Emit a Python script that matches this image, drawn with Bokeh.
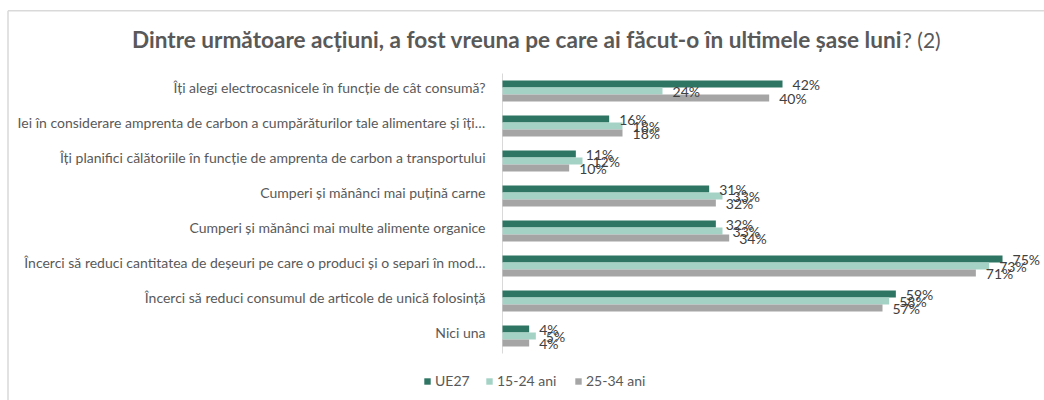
from bokeh.plotting import figure
from bokeh.models import ColumnDataSource, Label, Legend, LegendItem, Range1d
from bokeh.transform import dodge
from bokeh.core.properties import value
from bokeh.embed import file_html
from bokeh.resources import INLINE

categories = [
    "Îți alegi electrocasnicele în funcție de cât consumă?",
    "Iei în considerare amprenta de carbon a cumpărăturilor tale alimentare și îți…",
    "Îți planifici călătoriile în funcție de amprenta de carbon a transportului",
    "Cumperi și mănânci mai puțină carne",
    "Cumperi și mănânci mai multe alimente organice",
    "Încerci să reduci cantitatea de deșeuri pe care o produci și o separi în mod…",
    "Încerci să reduci consumul de articole de unică folosință",
    "Nici una",
]
ue27 = [42, 16, 11, 31, 32, 75, 59, 4]
ani_15_24 = [24, 18, 12, 33, 33, 73, 58, 5]
ani_25_34 = [40, 18, 10, 32, 34, 71, 57, 4]
series_names = ["UE27", "15-24 ani", "25-34 ani"]
title_bold = "Dintre următoare acțiuni, a fost vreuna pe care ai făcut-o în ultimele șase luni"
title_rest = "? (2)"

# ---- style / geometry ----
colors = ["#2f7563", "#a4d3c6", "#a5a5a5"]
FONT = "Lato"
W, H = 1044, 400
AXIS_PX = 502          # pixel x of the category axis
PX_PER_PCT = 6.667     # horizontal scale
PLOT_TOP = 73          # pixel y of top of first category band
BAND = 35              # pixel height of one category band
n = len(categories)

def xpx(px):
    return (px - AXIS_PX) / PX_PER_PCT

def ypx(py):
    return n - (py - PLOT_TOP) / BAND

ycenter = [n - i - 0.5 for i in range(n)]

src = ColumnDataSource(dict(
    cat=categories, yc=ycenter,
    ue27=ue27, a1=ani_15_24, a2=ani_25_34,
    l0=[f"{v}%" for v in ue27],
    l1=[f"{v}%" for v in ani_15_24],
    l2=[f"{v}%" for v in ani_25_34],
    zero=[0] * n,
))

p = figure(width=W, height=H, output_backend="svg", toolbar_location=None,
           x_range=Range1d(xpx(0), xpx(W)), y_range=Range1d(ypx(H), ypx(0)),
           min_border=0, min_border_left=0, min_border_right=0,
           min_border_top=0, min_border_bottom=0)
p.xaxis.visible = False
p.yaxis.visible = False
p.xgrid.visible = False
p.ygrid.visible = False
p.outline_line_color = None
p.background_fill_color = "white"

# chart border (top & left edges of the cropped chart frame)
p.segment(x0=[xpx(7.5), xpx(7.5)], y0=[ypx(10.3), ypx(10.3)],
          x1=[xpx(7.5), xpx(W + 20)], y1=[ypx(H + 20), ypx(10.3)],
          line_color="#d9d9d9", line_width=1.5)

# category axis line
p.segment(x0=[0], x1=[0], y0=[0], y1=[n], line_color="#d9d9d9", line_width=1)

# category labels
p.text(x="zero", y="yc", text="cat", source=src, x_offset=-17, y_offset=-4,
       text_align="right", text_baseline="middle", text_font=value(FONT),
       text_font_size="14px", text_color="#595959")

offsets = [0.2, 0.0, -0.2]
cols = ["ue27", "a1", "a2"]
lcols = ["l0", "l1", "l2"]
renderers = []
for col, off, c in zip(cols, offsets, colors):
    r = p.hbar(y=dodge("yc", off), right=col, left=0, height=0.2,
               source=src, fill_color=c, line_color=None)
    renderers.append(r)
for col, lc, off in zip(cols, lcols, offsets):
    p.text(x=col, y=dodge("yc", off), text=lc, source=src,
           x_offset=10, y_offset=0, text_align="left", text_baseline="middle",
           text_font=value(FONT), text_font_size="14px", text_color="#404040")

legend_x = [423, 485, 574]
for nm, r, lx in zip(series_names, renderers, legend_x):
    lg = Legend(items=[LegendItem(label=nm, renderers=[r])],
                orientation="horizontal", location=(lx, 11),
                glyph_width=8, glyph_height=8, label_height=12, label_standoff=4,
                padding=0, margin=0, border_line_color=None, background_fill_alpha=0,
                label_text_font=FONT, label_text_font_size="14px", label_text_color="#595959")
    p.add_layout(lg, "center")

p.add_layout(Label(x=xpx(901.5), y=ypx(39), text=title_bold,
                   text_align="right", text_baseline="middle", text_font=FONT,
                   text_font_style="bold", text_font_size="22.6px", text_color="#595959"))
p.add_layout(Label(x=xpx(902), y=ypx(39), text=title_rest,
                   text_align="left", text_baseline="middle", text_font=FONT,
                   text_font_size="21px", text_color="#595959"))

open("out.html", "w").write(file_html(p, INLINE))
